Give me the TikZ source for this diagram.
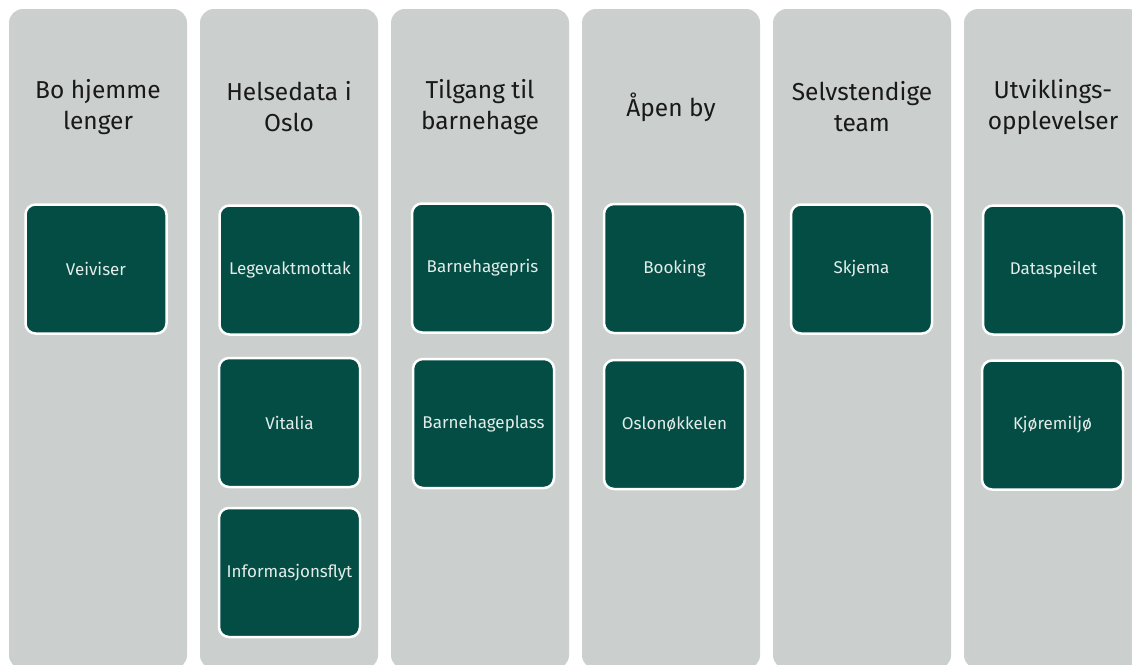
\documentclass[tikz,border=0pt]{standalone}
\usepackage{fontspec}
\setmainfont{Fira Sans}
\usetikzlibrary{positioning}
\definecolor{laneBg}{RGB}{203,207,206}
\definecolor{cardFill}{RGB}{3,77,68}
\definecolor{cardInk}{RGB}{228,236,233}
\definecolor{titleInk}{RGB}{25,25,25}

\tikzset{
  lane/.style={rounded corners=14pt, fill=laneBg, minimum width=178pt, minimum height=660pt, inner sep=0pt},
  lanetitle/.style={align=center, text=titleInk, inner sep=0pt, font=\fontsize{24.5}{31}\selectfont},
  card/.style={rounded corners=10pt, fill=cardFill, draw=white, line width=2.5pt, minimum width=141pt, minimum height=129pt, inner sep=0pt, text=cardInk, font=\fontsize{17}{20}\selectfont},
}

\begin{document}
\begin{tikzpicture}[x=1pt, y=-1pt]
    \fill[white] (0,0) rectangle (1132,664);
    \useasboundingbox (0,0) rectangle (1132,664);

    % lanes
    \node[lane] (laneBo)     at (98, 339) {};
    \node[lane] (laneHelse)  at (289, 339) {};
    \node[lane] (laneBhg)    at (480, 339) {};
    \node[lane] (laneBy)     at (671, 339) {};
    \node[lane] (laneTeam)   at (862, 339) {};
    \node[lane] (laneUtv)    at (1053, 339) {};

    % lane titles
    \node[lanetitle] (titleBo)    at (98, 107)   {Bo hjemme\\lenger};
    \node[lanetitle] (titleHelse) at (289, 107)  {Helsedata i\\Oslo};
    \node[lanetitle] (titleBhg)   at (480, 107)  {Tilgang til\\barnehage};
    \node[lanetitle] (titleBy)    at (671, 107)  {Åpen by};
    \node[lanetitle] (titleTeam)  at (862, 107)  {Selvstendige\\team};
    \node[lanetitle] (titleUtv)   at (1053, 107) {Utviklings-\\opplevelser};

    % cards
    \node[card] (veiviser)  at (96, 269)      {Veiviser};

    \node[card] (legevakt)  at (290, 270)     {Legevaktmottak};
    \node[card] (vitalia)   at (289.5, 422.5) {Vitalia};
    \node[card] (infoflyt)  at (289.5, 572.5) {Informasjonsflyt};

    \node[card] (bhgPris)   at (482.5, 268)   {Barnehagepris};
    \node[card] (bhgPlass)  at (483.5, 423.5) {Barnehageplass};

    \node[card] (booking)   at (674.5, 268.5) {Booking};
    \node[card] (oslonokkel) at (674.5, 424.5) {Oslonøkkelen};

    \node[card] (skjema)    at (861.5, 269)   {Skjema};

    \node[card] (dataspeil) at (1053.5, 270)  {Dataspeilet};
    \node[card] (kjoremiljo) at (1052.5, 425) {Kjøremiljø};
\end{tikzpicture}
\end{document}
